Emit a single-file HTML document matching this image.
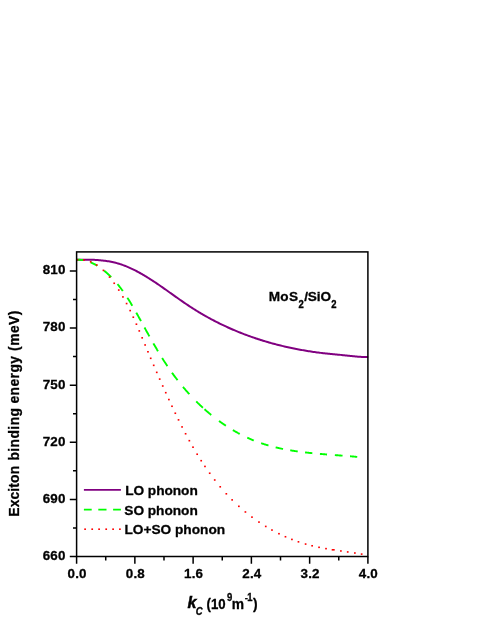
<!DOCTYPE html>
<html>
<head>
<meta charset="utf-8">
<title>Exciton binding energy vs cut-off wave vector</title>
<style>
html,body{margin:0;padding:0;background:#ffffff;}
body{width:485px;height:627px;overflow:hidden;font-family:"Liberation Sans",sans-serif;}
svg text{font-family:"Liberation Sans",sans-serif;}
</style>
</head>
<body>
<svg width="485" height="627" viewBox="0 0 485 627" style="display:block">
<rect x="0" y="0" width="485" height="627" fill="#ffffff"/>
<path d="M76.60 259.80 L77.90 259.80 L79.16 259.80 L80.42 259.80 L81.68 259.80 L82.93 259.80 L84.19 259.80 L85.44 259.80 L86.69 259.80 L87.94 259.80 L89.19 259.80 L90.43 259.80 L91.67 259.80 L92.91 259.79 L94.14 259.84 L95.38 259.91 L96.61 259.98 L97.83 260.07 L99.05 260.16 L100.27 260.26 L101.49 260.38 L102.70 260.50 L103.90 260.64 L105.10 260.80 L106.30 260.96 L107.49 261.14 L108.68 261.34 L109.86 261.54 L111.04 261.77 L112.21 262.01 L113.37 262.27 L114.53 262.55 L115.69 262.84 L116.84 263.15 L117.98 263.47 L119.12 263.81 L120.26 264.17 L121.39 264.54 L122.51 264.93 L123.63 265.33 L124.75 265.75 L125.86 266.18 L126.97 266.63 L128.07 267.09 L129.17 267.57 L130.27 268.07 L131.36 268.57 L132.45 269.09 L133.53 269.62 L134.61 270.16 L135.69 270.70 L136.76 271.26 L137.83 271.83 L138.90 272.41 L139.97 273.00 L141.03 273.59 L142.09 274.20 L143.14 274.81 L144.20 275.43 L145.25 276.06 L146.30 276.69 L147.34 277.33 L148.39 277.98 L149.43 278.64 L150.47 279.30 L151.51 279.97 L152.54 280.64 L153.58 281.32 L154.61 282.01 L155.65 282.70 L156.68 283.39 L157.71 284.09 L158.73 284.79 L159.76 285.50 L160.79 286.21 L161.81 286.92 L162.84 287.63 L163.86 288.35 L164.89 289.07 L165.91 289.79 L166.94 290.52 L167.96 291.24 L168.98 291.97 L170.00 292.70 L171.03 293.42 L172.05 294.15 L173.08 294.88 L174.10 295.61 L175.12 296.34 L176.15 297.06 L177.18 297.79 L178.20 298.51 L179.23 299.23 L180.26 299.96 L181.29 300.67 L182.32 301.39 L183.36 302.10 L184.39 302.81 L185.43 303.52 L186.47 304.22 L187.51 304.92 L188.55 305.62 L189.59 306.31 L190.64 306.99 L191.68 307.67 L192.74 308.35 L193.79 309.02 L194.84 309.68 L195.90 310.34 L196.96 311.00 L198.02 311.64 L199.09 312.29 L200.15 312.93 L201.22 313.56 L202.29 314.19 L203.36 314.81 L204.44 315.43 L205.52 316.04 L206.60 316.65 L207.68 317.25 L208.76 317.85 L209.85 318.44 L210.94 319.03 L212.03 319.61 L213.12 320.19 L214.21 320.76 L215.31 321.32 L216.41 321.88 L217.51 322.44 L218.61 322.99 L219.71 323.54 L220.82 324.08 L221.93 324.62 L223.04 325.15 L224.15 325.67 L225.26 326.20 L226.38 326.71 L227.50 327.22 L228.62 327.73 L229.74 328.23 L230.86 328.73 L231.99 329.22 L233.12 329.71 L234.25 330.19 L235.38 330.66 L236.51 331.14 L237.64 331.60 L238.78 332.07 L239.92 332.52 L241.06 332.98 L242.20 333.42 L243.34 333.87 L244.49 334.31 L245.63 334.74 L246.78 335.17 L247.93 335.59 L249.08 336.01 L250.24 336.43 L251.39 336.84 L252.55 337.24 L253.71 337.64 L254.87 338.04 L256.03 338.43 L257.19 338.81 L258.36 339.20 L259.52 339.57 L260.69 339.94 L261.86 340.31 L263.03 340.68 L264.20 341.03 L265.38 341.39 L266.55 341.74 L267.73 342.08 L268.91 342.42 L270.09 342.76 L271.27 343.09 L272.45 343.41 L273.63 343.74 L274.82 344.05 L276.01 344.37 L277.19 344.68 L278.38 344.98 L279.57 345.28 L280.77 345.57 L281.96 345.86 L283.15 346.15 L284.35 346.43 L285.55 346.71 L286.74 346.98 L287.94 347.25 L289.14 347.51 L290.35 347.77 L291.55 348.03 L292.75 348.28 L293.96 348.53 L295.17 348.77 L296.37 349.01 L297.58 349.24 L298.79 349.47 L300.00 349.69 L301.22 349.91 L302.43 350.13 L303.64 350.34 L304.86 350.55 L306.08 350.76 L307.29 350.95 L308.51 351.15 L309.73 351.34 L310.95 351.53 L312.17 351.71 L313.40 351.89 L314.62 352.06 L315.84 352.23 L317.07 352.40 L318.30 352.56 L319.52 352.72 L320.75 352.87 L321.98 353.02 L323.21 353.17 L324.44 353.31 L325.67 353.45 L326.90 353.58 L328.14 353.71 L329.37 353.83 L330.61 353.96 L331.84 354.07 L333.08 354.19 L334.31 354.29 L335.55 354.40 L336.79 354.51 L338.03 354.63 L339.27 354.75 L340.51 354.88 L341.75 355.01 L342.99 355.15 L344.24 355.28 L345.48 355.42 L346.72 355.56 L347.97 355.70 L349.21 355.83 L350.46 355.97 L351.70 356.10 L352.95 356.22 L354.20 356.35 L355.45 356.46 L356.69 356.57 L357.94 356.68 L359.19 356.77 L360.44 356.85 L361.69 356.93 L362.94 356.99 L364.19 357.05 L365.45 357.09 L366.70 357.11 L367.95 357.12 L368.20 357.12" fill="none" stroke="#800080" stroke-width="2.0" stroke-linejoin="round"/>
<path d="M76.60 259.80 L77.20 259.80 L77.79 259.80 L78.38 259.80 L78.97 259.80 L79.56 259.80 L80.15 259.82 L80.73 259.86 L81.31 259.91 L81.89 259.97 L82.47 260.05 L83.05 260.13 L83.20 260.16 M90.63 262.32 L91.17 262.55 L91.71 262.79 L92.25 263.04 L92.79 263.29 L93.32 263.56 L93.85 263.83 L94.38 264.10 L94.90 264.39 L95.43 264.68 L95.95 264.98 L96.46 265.28 L96.98 265.59 L97.23 265.75 M104.09 270.66 L104.56 271.04 L105.02 271.42 L105.48 271.81 L105.94 272.20 L106.39 272.59 L106.84 272.99 L107.29 273.38 L107.73 273.79 L108.17 274.19 L108.61 274.60 L109.05 275.00 L109.48 275.42 L109.91 275.83 L110.34 276.25 L110.76 276.67 L111.18 277.09 M117.47 284.05 L117.84 284.51 L118.22 284.98 L118.59 285.44 L118.97 285.91 L119.34 286.37 L119.70 286.85 L120.07 287.32 L120.43 287.79 L120.79 288.27 L121.15 288.75 L121.51 289.22 L121.86 289.71 L122.22 290.19 L122.57 290.67 L122.83 291.04 M127.39 297.74 L127.71 298.25 L128.04 298.75 L128.36 299.26 L128.68 299.77 L129.00 300.28 L129.32 300.79 L129.64 301.31 L129.96 301.82 L130.27 302.34 L130.59 302.85 L130.90 303.37 L131.21 303.89 L131.52 304.40 L131.83 304.92 L132.14 305.44 L132.37 305.83 M136.30 312.66 L136.59 313.19 L136.89 313.72 L137.19 314.25 L137.48 314.78 L137.78 315.31 L138.07 315.84 L138.37 316.37 L138.66 316.90 L138.95 317.43 L139.25 317.96 L139.54 318.49 L139.83 319.02 L140.12 319.55 L140.42 320.08 L140.71 320.61 L141.00 321.14 M144.50 327.50 L144.79 328.03 L145.08 328.56 L145.37 329.09 L145.67 329.62 L145.96 330.14 L146.25 330.67 L146.54 331.20 L146.83 331.73 L147.13 332.26 L147.42 332.78 L147.71 333.31 L148.01 333.84 L148.30 334.36 L148.59 334.89 L148.89 335.42 L149.18 335.94 L149.40 336.34 M153.41 343.40 L153.71 343.92 L154.01 344.44 L154.31 344.96 L154.61 345.48 L154.91 346.00 L155.22 346.52 L155.52 347.04 L155.82 347.56 L156.13 348.08 L156.43 348.59 L156.74 349.11 L157.04 349.63 L157.35 350.14 L157.66 350.66 L157.97 351.18 M162.12 357.96 L162.44 358.46 L162.76 358.97 L163.08 359.48 L163.40 359.99 L163.73 360.49 L164.05 361.00 L164.38 361.50 L164.70 362.01 L165.03 362.51 L165.36 363.01 L165.69 363.51 L166.02 364.02 L166.35 364.52 L166.68 365.02 L167.01 365.52 L167.35 366.02 L167.43 366.14 M171.97 372.69 L172.32 373.18 L172.68 373.67 L173.03 374.15 L173.39 374.64 L173.74 375.13 L174.10 375.61 L174.46 376.10 L174.82 376.58 L175.18 377.06 L175.54 377.54 L175.91 378.03 L176.27 378.51 L176.64 378.99 L177.01 379.46 L177.38 379.94 L177.56 380.18 M182.97 386.89 L183.36 387.35 L183.75 387.81 L184.14 388.27 L184.54 388.73 L184.93 389.19 L185.33 389.65 L185.72 390.11 L186.12 390.56 L186.52 391.02 L186.92 391.47 L187.32 391.93 L187.72 392.38 L188.13 392.83 L188.53 393.28 L188.94 393.73 L189.35 394.17 M196.24 401.39 L196.67 401.82 L197.10 402.24 L197.53 402.66 L197.96 403.09 L198.40 403.51 L198.83 403.93 L199.27 404.35 L199.70 404.77 L200.14 405.18 L200.58 405.60 L201.02 406.01 L201.46 406.42 L201.91 406.83 L202.35 407.24 L202.79 407.65 L202.91 407.75 M204.47 409.17 L204.92 409.57 L205.37 409.97 L205.83 410.37 L206.28 410.77 L206.74 411.16 L207.19 411.56 L207.65 411.95 L208.11 412.34 L208.57 412.73 L209.03 413.12 L209.49 413.51 L209.95 413.89 L210.42 414.28 L210.88 414.66 L211.23 414.94 M218.96 420.92 L219.45 421.27 L219.94 421.62 L220.42 421.97 L220.91 422.32 L221.40 422.67 L221.89 423.01 L222.39 423.36 L222.88 423.70 L223.37 424.04 L223.87 424.38 L224.36 424.71 L224.86 425.05 L225.36 425.38 L225.86 425.71 M232.84 430.08 L233.35 430.38 L233.87 430.68 L234.39 430.98 L234.91 431.28 L235.43 431.58 L235.95 431.87 L236.47 432.16 L236.99 432.45 L237.52 432.74 L238.04 433.03 L238.57 433.31 L239.09 433.59 L239.62 433.87 L239.75 433.94 M247.26 437.64 L247.80 437.89 L248.35 438.14 L248.89 438.38 L249.44 438.63 L249.99 438.87 L250.54 439.10 L251.09 439.34 L251.64 439.57 L252.19 439.80 L252.74 440.03 L253.30 440.26 L253.85 440.49 M261.15 443.20 L261.72 443.39 L262.29 443.58 L262.86 443.77 L263.43 443.96 L264.01 444.14 L264.58 444.32 L265.15 444.50 L265.73 444.68 L266.30 444.85 L266.88 445.02 L267.46 445.19 L268.04 445.36 L268.47 445.49 M275.63 447.37 L276.22 447.51 L276.81 447.64 L277.40 447.78 L277.99 447.92 L278.58 448.05 L279.17 448.18 L279.77 448.31 L280.36 448.44 L280.95 448.56 L281.55 448.69 L282.14 448.81 L282.74 448.93 L283.04 448.99 M290.22 450.31 L290.83 450.41 L291.43 450.51 L292.03 450.61 L292.63 450.70 L293.24 450.80 L293.84 450.89 L294.44 450.98 L295.05 451.08 L295.65 451.16 L296.26 451.25 L296.86 451.34 L297.47 451.43 L297.77 451.47 M305.05 452.40 L305.66 452.47 L306.27 452.54 L306.87 452.61 L307.48 452.68 L308.09 452.75 L308.70 452.81 L309.30 452.88 L309.91 452.94 L310.52 453.01 L311.13 453.07 L311.74 453.13 L312.34 453.19 M319.93 453.90 L320.54 453.95 L321.14 454.01 L321.75 454.06 L322.36 454.11 L322.96 454.16 L323.57 454.21 L324.17 454.26 L324.77 454.31 L325.38 454.36 L325.98 454.41 L326.59 454.45 L327.04 454.49 M334.85 455.09 L335.44 455.13 L336.04 455.18 L336.64 455.22 L337.23 455.27 L337.83 455.31 L338.42 455.36 L339.02 455.40 L339.61 455.45 L340.20 455.49 L340.80 455.54 L341.39 455.58 L341.98 455.63 L342.57 455.67 M350.04 456.27 L350.62 456.32 L351.20 456.37 L351.78 456.42 L352.36 456.47 L352.94 456.52 L353.51 456.57 L354.09 456.62 L354.66 456.67 L355.24 456.72 L355.81 456.78 L356.38 456.83 L356.95 456.89 L357.24 456.91" fill="none" stroke="#00ff00" stroke-width="1.9" stroke-linejoin="round"/>
<g fill="#ff0000">
<rect x="76.55" y="259.00" width="1.7" height="1.6"/>
<rect x="83.10" y="259.27" width="1.7" height="1.6"/>
<rect x="89.84" y="261.03" width="1.7" height="1.6"/>
<rect x="95.89" y="264.18" width="1.7" height="1.6"/>
<rect x="102.59" y="269.58" width="1.7" height="1.6"/>
<rect x="108.71" y="276.30" width="1.7" height="1.6"/>
<rect x="113.36" y="282.47" width="1.7" height="1.6"/>
<rect x="117.92" y="289.25" width="1.7" height="1.6"/>
<rect x="122.08" y="296.12" width="1.7" height="1.6"/>
<rect x="125.75" y="302.76" width="1.7" height="1.6"/>
<rect x="129.32" y="309.79" width="1.7" height="1.6"/>
<rect x="132.44" y="316.41" width="1.7" height="1.6"/>
<rect x="135.56" y="323.40" width="1.7" height="1.6"/>
<rect x="138.43" y="330.12" width="1.7" height="1.6"/>
<rect x="141.32" y="337.04" width="1.7" height="1.6"/>
<rect x="144.27" y="344.16" width="1.7" height="1.6"/>
<rect x="147.11" y="350.99" width="1.7" height="1.6"/>
<rect x="149.86" y="357.51" width="1.7" height="1.6"/>
<rect x="152.86" y="364.54" width="1.7" height="1.6"/>
<rect x="155.90" y="371.58" width="1.7" height="1.6"/>
<rect x="158.84" y="378.30" width="1.7" height="1.6"/>
<rect x="161.89" y="385.19" width="1.7" height="1.6"/>
<rect x="164.91" y="391.90" width="1.7" height="1.6"/>
<rect x="168.04" y="398.77" width="1.7" height="1.6"/>
<rect x="171.15" y="405.46" width="1.7" height="1.6"/>
<rect x="174.46" y="412.44" width="1.7" height="1.6"/>
<rect x="177.68" y="419.07" width="1.7" height="1.6"/>
<rect x="181.21" y="426.13" width="1.7" height="1.6"/>
<rect x="184.75" y="432.96" width="1.7" height="1.6"/>
<rect x="188.49" y="439.88" width="1.7" height="1.6"/>
<rect x="192.16" y="446.39" width="1.7" height="1.6"/>
<rect x="196.32" y="453.43" width="1.7" height="1.6"/>
<rect x="200.34" y="459.89" width="1.7" height="1.6"/>
<rect x="204.12" y="465.64" width="1.7" height="1.6"/>
<rect x="208.85" y="472.43" width="1.7" height="1.6"/>
<rect x="213.88" y="479.19" width="1.7" height="1.6"/>
<rect x="219.37" y="486.01" width="1.7" height="1.6"/>
<rect x="225.48" y="493.00" width="1.7" height="1.6"/>
<rect x="231.29" y="499.09" width="1.7" height="1.6"/>
<rect x="238.02" y="505.52" width="1.7" height="1.6"/>
<rect x="244.56" y="511.18" width="1.7" height="1.6"/>
<rect x="251.13" y="516.33" width="1.7" height="1.6"/>
<rect x="258.13" y="521.29" width="1.7" height="1.6"/>
<rect x="264.91" y="525.64" width="1.7" height="1.6"/>
<rect x="271.12" y="529.24" width="1.7" height="1.6"/>
<rect x="278.12" y="532.91" width="1.7" height="1.6"/>
<rect x="284.62" y="535.95" width="1.7" height="1.6"/>
<rect x="291.07" y="538.63" width="1.7" height="1.6"/>
<rect x="297.61" y="541.03" width="1.7" height="1.6"/>
<rect x="304.75" y="543.27" width="1.7" height="1.6"/>
<rect x="311.28" y="544.98" width="1.7" height="1.6"/>
<rect x="318.20" y="546.52" width="1.7" height="1.6"/>
<rect x="325.17" y="547.84" width="1.7" height="1.6"/>
<rect x="331.69" y="549.02" width="3.0" height="1.6"/>
<rect x="340.04" y="550.17" width="1.7" height="1.6"/>
<rect x="346.87" y="551.15" width="1.7" height="1.6"/>
<rect x="354.02" y="552.21" width="1.7" height="1.6"/>
<rect x="360.80" y="553.30" width="1.7" height="1.6"/>
</g>
<rect x="76.60" y="251.90" width="291.30" height="304.60" fill="none" stroke="#000" stroke-width="1.50"/>
<path d="M76.60 556.50 v7.30 M105.73 556.50 v3.90 M134.86 556.50 v7.30 M163.99 556.50 v3.90 M193.12 556.50 v7.30 M222.25 556.50 v3.90 M251.38 556.50 v7.30 M280.51 556.50 v3.90 M309.64 556.50 v7.30 M338.77 556.50 v3.90 M367.90 556.50 v7.30 M76.60 556.50 h-6.80 M76.60 527.94 h-3.60 M76.60 499.39 h-6.80 M76.60 470.83 h-3.60 M76.60 442.27 h-6.80 M76.60 413.72 h-3.60 M76.60 385.16 h-6.80 M76.60 356.61 h-3.60 M76.60 328.05 h-6.80 M76.60 299.49 h-3.60 M76.60 270.94 h-6.80" fill="none" stroke="#000" stroke-width="1.50"/>
<g font-family="'Liberation Sans', sans-serif" font-weight="bold" fill="#000" stroke="#000" opacity="0.999">
<text transform="translate(65.40 559.90) scale(0.1 0.1000)" font-size="134.0" stroke-width="3.0" text-anchor="end" textLength="227.0" lengthAdjust="spacing">660</text>
<text transform="translate(65.40 502.79) scale(0.1 0.1000)" font-size="134.0" stroke-width="3.0" text-anchor="end" textLength="227.0" lengthAdjust="spacing">690</text>
<text transform="translate(65.40 445.67) scale(0.1 0.1000)" font-size="134.0" stroke-width="3.0" text-anchor="end" textLength="227.0" lengthAdjust="spacing">720</text>
<text transform="translate(65.40 388.56) scale(0.1 0.1000)" font-size="134.0" stroke-width="3.0" text-anchor="end" textLength="227.0" lengthAdjust="spacing">750</text>
<text transform="translate(65.40 331.45) scale(0.1 0.1000)" font-size="134.0" stroke-width="3.0" text-anchor="end" textLength="227.0" lengthAdjust="spacing">780</text>
<text transform="translate(65.40 274.34) scale(0.1 0.1000)" font-size="134.0" stroke-width="3.0" text-anchor="end" textLength="227.0" lengthAdjust="spacing">810</text>
<text transform="translate(77.00 578.00) scale(0.1 0.1000)" font-size="134.0" stroke-width="3.0" text-anchor="middle" textLength="189.0" lengthAdjust="spacing">0.0</text>
<text transform="translate(135.26 578.00) scale(0.1 0.1000)" font-size="134.0" stroke-width="3.0" text-anchor="middle" textLength="189.0" lengthAdjust="spacing">0.8</text>
<text transform="translate(193.52 578.00) scale(0.1 0.1000)" font-size="134.0" stroke-width="3.0" text-anchor="middle" textLength="189.0" lengthAdjust="spacing">1.6</text>
<text transform="translate(251.78 578.00) scale(0.1 0.1000)" font-size="134.0" stroke-width="3.0" text-anchor="middle" textLength="189.0" lengthAdjust="spacing">2.4</text>
<text transform="translate(310.04 578.00) scale(0.1 0.1000)" font-size="134.0" stroke-width="3.0" text-anchor="middle" textLength="189.0" lengthAdjust="spacing">3.2</text>
<text transform="translate(368.30 578.00) scale(0.1 0.1000)" font-size="134.0" stroke-width="3.0" text-anchor="middle" textLength="189.0" lengthAdjust="spacing">4.0</text>
<text transform="translate(125.20 495.10) scale(0.1 0.1000)" font-size="137.0" stroke-width="3.0" textLength="726.0" lengthAdjust="spacing">LO phonon</text>
<text transform="translate(124.30 514.60) scale(0.1 0.1000)" font-size="137.0" stroke-width="3.0" textLength="735.0" lengthAdjust="spacing">SO phonon</text>
<text transform="translate(124.50 534.00) scale(0.1 0.1000)" font-size="137.0" stroke-width="3.0" textLength="1006.0" lengthAdjust="spacing">LO+SO phonon</text>
<text transform="translate(268.70 301.30) scale(0.1 0.1000)" font-size="136.0" stroke-width="3.0" textLength="294.0" lengthAdjust="spacing">MoS</text>
<text transform="translate(304.20 301.30) scale(0.1 0.1000)" font-size="136.0" stroke-width="3.0" textLength="269.0" lengthAdjust="spacing">/SiO</text>
<text transform="translate(298.60 308.10) scale(0.1 0.1200)" font-size="95.0" stroke-width="3.0">2</text>
<text transform="translate(331.20 308.10) scale(0.1 0.1200)" font-size="95.0" stroke-width="3.0">2</text>
<text transform="translate(19.20 516.70) rotate(-90) scale(0.1 0.1000)" font-size="138.5" stroke-width="3.0" textLength="509.0" lengthAdjust="spacing">Exciton</text>
<text transform="translate(19.20 460.60) rotate(-90) scale(0.1 0.1000)" font-size="138.5" stroke-width="3.0" textLength="526.0" lengthAdjust="spacing">binding</text>
<text transform="translate(19.20 403.60) rotate(-90) scale(0.1 0.1000)" font-size="138.5" stroke-width="3.0" textLength="476.0" lengthAdjust="spacing">energy</text>
<text transform="translate(19.20 350.90) rotate(-90) scale(0.1 0.1000)" font-size="138.5" stroke-width="3.0" textLength="403.0" lengthAdjust="spacing">(meV)</text>
<text transform="translate(187.40 608.40) scale(0.1 0.1000)" font-size="161.0" stroke-width="5.0" font-style="italic">k</text>
<text transform="translate(195.70 615.00) scale(0.1 0.1150)" font-size="95.0" stroke-width="3.0" font-style="italic">C</text>
<text transform="translate(206.50 608.50) scale(0.1 0.1045)" font-size="132.0" stroke-width="3.0">(10</text>
<text transform="translate(226.90 600.70) scale(0.1 0.1200)" font-size="95.0" stroke-width="3.0">9</text>
<text transform="translate(231.80 608.50) scale(0.1 0.1000)" font-size="138.0" stroke-width="3.0">m</text>
<text transform="translate(244.80 600.90) scale(0.1 0.1000)" font-size="95.0" stroke-width="3.0">-</text>
<text transform="translate(247.30 600.70) scale(0.1 0.1200)" font-size="95.0" stroke-width="3.0">1</text>
<text transform="translate(253.00 608.50) scale(0.1 0.1000)" font-size="138.0" stroke-width="3.0">)</text>
</g>
<path d="M83.9 489.9H120.9" stroke="#800080" stroke-width="1.7" fill="none"/>
<path d="M83.9 509.6H91.7M98.3 509.6H106.5M113.1 509.6H120.9" stroke="#00ff00" stroke-width="1.9" fill="none"/>
<g fill="#ff0000">
<rect x="84.25" y="528.40" width="1.7" height="1.6"/>
<rect x="91.35" y="528.40" width="1.7" height="1.6"/>
<rect x="98.25" y="528.40" width="1.7" height="1.6"/>
<rect x="105.35" y="528.40" width="1.7" height="1.6"/>
<rect x="112.25" y="528.40" width="1.7" height="1.6"/>
<rect x="119.05" y="528.40" width="1.7" height="1.6"/>
</g>
</svg>
</body>
</html>
